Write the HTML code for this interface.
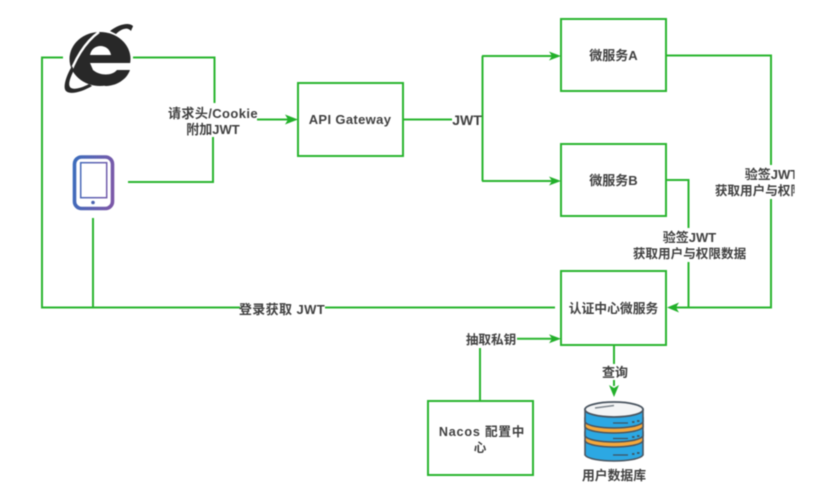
<!DOCTYPE html>
<html><head><meta charset="utf-8"><style>
html,body{margin:0;padding:0;background:#fff}
svg{display:block;filter:blur(.4px)}
text{font-family:"Liberation Sans","Noto Sans CJK SC",sans-serif;font-size:12.6px;font-weight:700;fill:#404040;text-anchor:middle}
.l{fill:none;stroke:#2ab52f;stroke-width:2}
.b{fill:#fff;stroke:#2ab52f;stroke-width:2}
.a{fill:#22b02a}
.d{stroke:#4a5560;stroke-width:1.600}
.bl{fill:#2ca8e3}
.or{fill:#f5a83c}
</style></head><body>
<svg width="815" height="488" viewBox="0 0 815 488" xmlns="http://www.w3.org/2000/svg">
<defs>
<linearGradient id="g" gradientUnits="userSpaceOnUse" x1="72" y1="180" x2="114" y2="185"><stop offset="0" stop-color="#3c6cbc"/><stop offset="1" stop-color="#7b58a8"/></linearGradient>
<clipPath id="c"><rect x="700" y="160" width="94.500" height="45"/></clipPath>
</defs>
<rect class="b" x="298" y="83" width="105" height="73"/>
<rect class="b" x="561" y="19" width="105" height="72"/>
<rect class="b" x="561" y="144" width="105" height="72"/>
<rect class="b" x="561" y="271" width="105" height="74"/>
<rect class="b" x="428" y="401" width="105" height="74"/>
<path class="l" d="M63 57.500H42V307.500H240M325 307.500H555M93 218V307.500"/>
<path class="l" d="M133 57.500H214.500V103M213 137V182H128M257 119.500H288"/>
<path class="a" d="M298 119.500l-13-5 3 5-3 5z"/>
<path class="l" d="M404 119.500H452M482.500 56V181M482 56H552M482 181H552"/>
<path class="a" d="M561 56l-12-4.500 3 4.500-3 4.500zM561 181l-12-4.500 3 4.500-3 4.500z"/>
<path class="l" d="M666 55.500H771V165M771 199V307.500H676M666 180H688.500V228M688.500 262V307.500"/>
<path class="a" d="M667 307.500l12-5-3 5 3 5z"/>
<path class="l" d="M517 338.700H552M480 401V348"/>
<path class="a" d="M561 338.700l-12-4.500 3 4.500-3 4.500z"/>
<path class="l" d="M614 345V364M614 380V386"/>
<path class="a" d="M614 397l-5-12 5 3 5-3z"/>
<g>
<ellipse cx="100" cy="59" rx="30.500" ry="27" fill="#282828"/>
<path fill="#fff" d="M90 55C92 43 109 43 111 55Z"/>
<path fill="#fff" d="M90 63H133V70H117C112 76 100 76 93 70Z"/>
<path fill="#282828" d="M118 70H130C127 79 117 86 105 86L100 80C108 80 114 76 118 70Z"/>
<path fill="none" stroke="#fff" stroke-width="2.500" d="M99 32C85 42 74 60 68 80"/>
<path fill="#282828" d="M72 66C65 78 63 88 66 91C70 95 82 92 92 86L89 84C80 89 72 90 70 87C68 84 70 78 74 70Z"/>
<path fill="#282828" d="M110 31C119 24 129 22 133 26C133 27 132 28 131 31C128 27 122 28 116 34Z"/>
</g>
<g fill="none">
<rect x="74.500" y="157" width="38" height="51.500" rx="7" stroke="url(#g)" stroke-width="3.600"/>
<rect x="80.700" y="162.700" width="26" height="35" stroke="url(#g)" stroke-width="1.500"/>
<circle cx="93" cy="202.500" r="1.800" fill="#4a62b0"/>
</g>
<g>
<path class="bl d" d="M585 441V455C590 463 638 463 643 455V441z"/>
<path class="or d" d="M585 432V441C590 449 638 449 643 441V432z"/>
<path class="bl d" d="M585 424V436C590 444 638 444 643 436V424z"/>
<path class="or d" d="M585 418V427C590 435 638 435 643 427V418z"/>
<path class="bl d" d="M585 409V422C590 430 638 430 643 422V409z"/>
<ellipse cx="614" cy="409.500" rx="29" ry="7.500" fill="#f4f5f6" stroke="#4a5560" stroke-width="1.800"/>
<path d="M595 408L614 405.500" stroke="#7d858c" stroke-width="1.500" fill="none"/>
<path d="M613 423H628M613 438.500H628M613 455H628" stroke="#40525f" stroke-width="1.300" fill="none"/>
<path d="M632 422h2.500M637 421h2.500M632 437h2.500M637 436h2.500M632 454h2.500M637 453h2.500" stroke="#40525f" stroke-width="1.800" fill="none"/>
</g>
<text x="350" y="124" style="font-size:13px;letter-spacing:.35px">API Gateway</text>
<text x="613.500" y="60" style="font-size:13px">微服务A</text>
<text x="613.500" y="185" style="font-size:13px">微服务B</text>
<text x="613.500" y="313" style="font-size:12.800px">认证中心微服务</text>
<text x="482" y="436" style="letter-spacing:.8px">Nacos 配置中</text>
<text x="480" y="452">心</text>
<text x="213" y="118" style="font-size:13px;letter-spacing:.4px">请求头/Cookie</text>
<text x="213" y="134" style="font-size:13px">附加JWT</text>
<text x="467" y="125" style="font-size:14px">JWT</text>
<text x="282" y="314" style="font-size:13px;letter-spacing:.4px">登录获取 JWT</text>
<text x="491" y="344">抽取私钥</text>
<text x="615" y="377" style="font-size:13px">查询</text>
<text x="614" y="480" style="font-size:12.800px">用户数据库</text>
<text x="689.500" y="242" style="font-size:13px">验签JWT</text>
<text x="689.500" y="258">获取用户与权限数据</text>
<g clip-path="url(#c)">
<text x="771.500" y="179" style="font-size:13px">验签JWT</text>
<text x="771.500" y="195">获取用户与权限数据</text>
</g>
</svg>
</body></html>
